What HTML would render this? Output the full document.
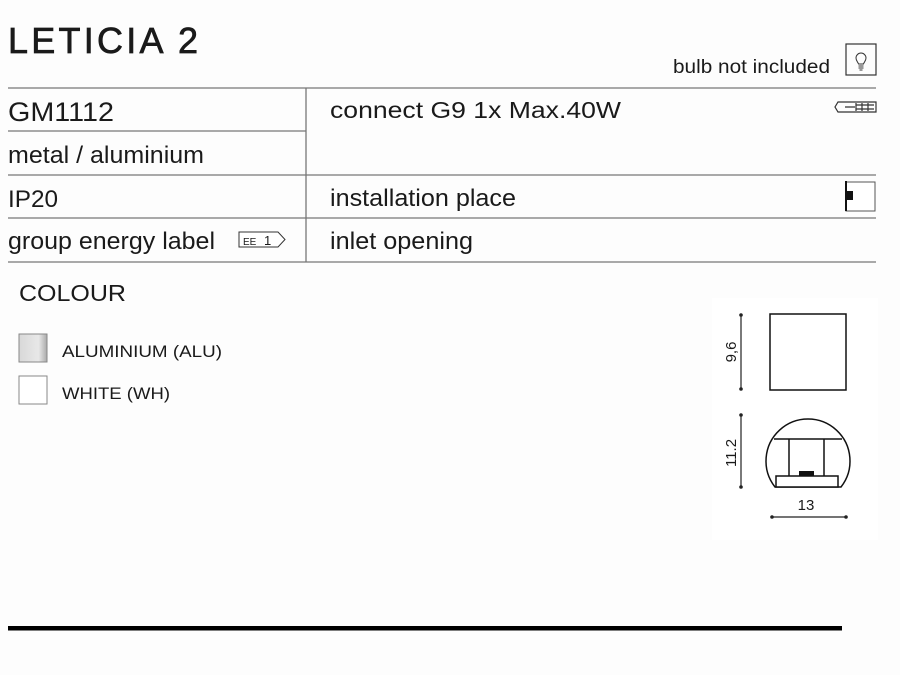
<!DOCTYPE html>
<html><head><meta charset="utf-8"><style>
html,body{margin:0;padding:0;background:#fdfdfd}
svg{display:block}
text{font-family:"Liberation Sans",sans-serif;fill:#1a1a1a}
</style></head><body>
<svg width="900" height="675" viewBox="0 0 900 675" xmlns="http://www.w3.org/2000/svg">
<rect width="900" height="675" fill="#fdfdfd"/>
<text x="8" y="53" font-size="36" textLength="190" lengthAdjust="spacing" stroke="#1a1a1a" stroke-width="0.7">LETICIA 2</text>
<text x="673" y="73" font-size="19" textLength="157" lengthAdjust="spacingAndGlyphs">bulb not included</text>
<rect x="846" y="44" width="30" height="31" fill="none" stroke="#333" stroke-width="1.2"/>
<path d="M856 58 a5 5 0 1 1 10 0 c0 3 -2 4 -2.5 6 h-5 c-0.5 -2 -2.5 -3 -2.5 -6z" fill="none" stroke="#333" stroke-width="1"/>
<path d="M858.5 66 h5 M858.5 68 h5 M859.5 70 h3" stroke="#333" stroke-width="1"/>
<g stroke="#777" stroke-width="1.3">
<line x1="8" y1="88" x2="876" y2="88"/>
<line x1="8" y1="131" x2="306" y2="131"/>
<line x1="8" y1="175" x2="876" y2="175"/>
<line x1="8" y1="218" x2="876" y2="218"/>
<line x1="8" y1="262" x2="876" y2="262"/>
<line x1="306" y1="88" x2="306" y2="262"/>
</g>
<text x="8" y="121" font-size="27" textLength="106" lengthAdjust="spacingAndGlyphs">GM1112</text>
<text x="8" y="163" font-size="24" textLength="196" lengthAdjust="spacingAndGlyphs">metal / aluminium</text>
<text x="8" y="207" font-size="24" textLength="50" lengthAdjust="spacingAndGlyphs">IP20</text>
<text x="8" y="249" font-size="24" textLength="207" lengthAdjust="spacingAndGlyphs">group energy label</text>
<path d="M239 232 h39 l7 7.5 l-7 7.5 h-39z" fill="#fff" stroke="#333" stroke-width="1"/>
<text x="243" y="245" font-size="10">EE</text>
<text x="264" y="245" font-size="13">1</text>
<text x="330" y="118" font-size="23" textLength="291" lengthAdjust="spacingAndGlyphs">connect G9 1x Max.40W</text>
<text x="330" y="206" font-size="24" textLength="186" lengthAdjust="spacingAndGlyphs">installation place</text>
<text x="330" y="249" font-size="24" textLength="143" lengthAdjust="spacingAndGlyphs">inlet opening</text>
<path d="M838 102 h38 v10 h-38 l-3 -5z" fill="none" stroke="#333" stroke-width="1.2"/>
<path d="M845 107 h10 M856 103 v8 M862 103 v8 M868 103 v8 M856 105 h18 M856 109 h18" stroke="#333" stroke-width="1.2"/>
<rect x="846" y="182" width="29" height="29" fill="#fff" stroke="#555" stroke-width="1"/>
<line x1="846" y1="181" x2="846" y2="211" stroke="#111" stroke-width="2"/>
<rect x="846" y="191" width="7" height="9" fill="#111"/>
<text x="19" y="301" font-size="23" textLength="107" lengthAdjust="spacingAndGlyphs">COLOUR</text>
<defs><linearGradient id="g" x1="0" x2="1"><stop offset="0" stop-color="#d8d8d8"/><stop offset="0.7" stop-color="#e8e8e8"/><stop offset="1" stop-color="#aaa"/></linearGradient></defs>
<rect x="19" y="334" width="28" height="28" fill="url(#g)" stroke="#888" stroke-width="1"/>
<rect x="19" y="376" width="28" height="28" fill="#fff" stroke="#888" stroke-width="1"/>
<text x="62" y="357" font-size="17" textLength="160" lengthAdjust="spacingAndGlyphs">ALUMINIUM (ALU)</text>
<text x="62" y="399" font-size="17" textLength="108" lengthAdjust="spacingAndGlyphs">WHITE (WH)</text>
<rect x="712" y="298" width="166" height="242" fill="#fff"/>
<g stroke="#111" stroke-width="1.5" fill="none">
<rect x="770" y="314" width="76" height="76"/>
<path d="M775 487 A42 42 0 1 1 841 487 Z"/>
<line x1="774" y1="439" x2="842" y2="439"/>
<line x1="789" y1="439" x2="789" y2="476"/>
<line x1="824" y1="439" x2="824" y2="476"/>
<rect x="776" y="476" width="62" height="11" fill="#fff"/>
</g>
<rect x="799" y="471" width="15" height="5" fill="#111"/>
<g stroke="#222" stroke-width="1.2">
<line x1="741" y1="315" x2="741" y2="389"/>
<line x1="741" y1="415" x2="741" y2="487"/>
<line x1="772" y1="517" x2="846" y2="517"/>
</g>
<g fill="#222">
<circle cx="741" cy="315" r="1.8"/><circle cx="741" cy="389" r="1.8"/>
<circle cx="741" cy="415" r="1.8"/><circle cx="741" cy="487" r="1.8"/>
<circle cx="772" cy="517" r="1.8"/><circle cx="846" cy="517" r="1.8"/>
</g>
<text transform="translate(736,352) rotate(-90)" text-anchor="middle" font-size="15">9,6</text>
<text transform="translate(736,453) rotate(-90)" text-anchor="middle" font-size="15">11.2</text>
<text x="806" y="510" text-anchor="middle" font-size="15">13</text>
<rect x="8" y="626" width="834" height="4.5" fill="#000"/>
</svg>
</body></html>
